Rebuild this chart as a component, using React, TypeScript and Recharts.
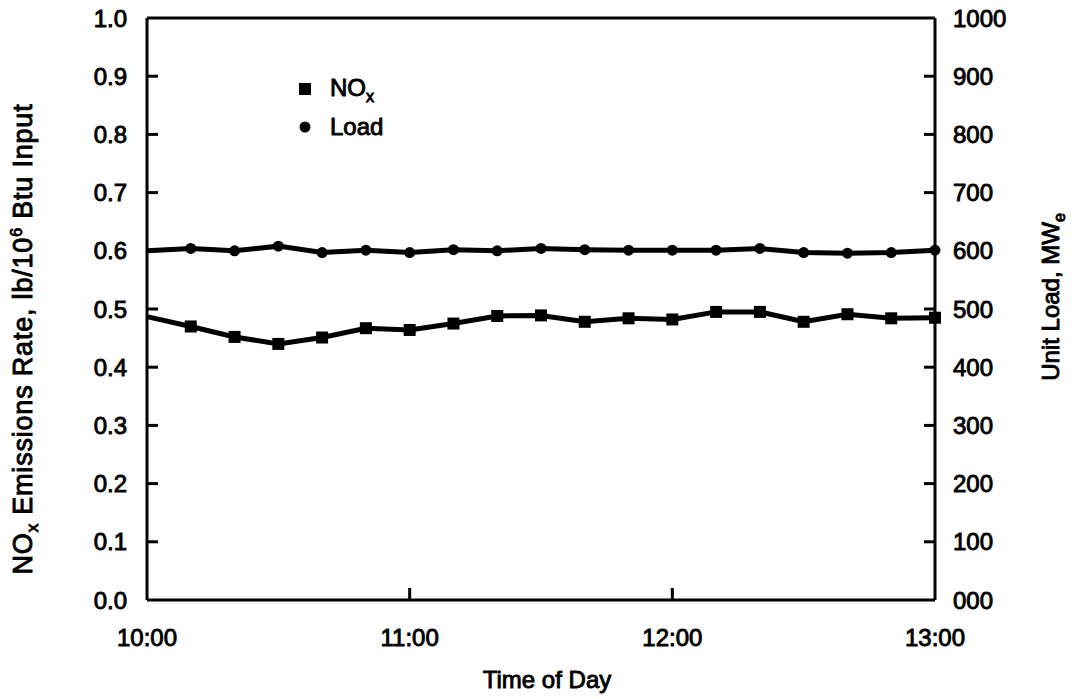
import React from "react";
import { ComposedChart, Line, XAxis, YAxis, ReferenceLine, Legend, Label } from "recharts";

// minutes after 10:00, one reading every 10 min
const minutes = [0, 10, 20, 30, 40, 50, 60, 70, 80, 90, 100, 110, 120, 130, 140, 150, 160, 170, 180];
const noxRate = [0.487, 0.47, 0.452, 0.44, 0.451, 0.467, 0.464, 0.475, 0.488, 0.489, 0.478, 0.484, 0.482, 0.495, 0.495, 0.478, 0.491, 0.484, 0.485];
const unitLoad = [600, 604, 600, 608, 597, 601, 597, 602, 600, 604, 602, 601, 601, 601, 604, 597, 596, 597, 601];

const timeTicks = [0, 60, 120, 180];
const timeLabels = ["10:00", "11:00", "12:00", "13:00"];
const rateTicks = [0, 0.1, 0.2, 0.3, 0.4, 0.5, 0.6, 0.7, 0.8, 0.9, 1.0];
const loadTicks = [0, 100, 200, 300, 400, 500, 600, 700, 800, 900, 1000];
const legendOrder = ["nox", "load"];

const data = minutes.map((t, i) => ({ t, nox: noxRate[i], load: unitLoad[i] }));

const FONT = "'Liberation Sans', Arial, Helvetica, sans-serif";
const INK = "#000";

const textStyle = { fontFamily: FONT, fontSize: 24, fill: INK, stroke: INK, strokeWidth: 0.9 };

function TimeTick(props: any) {
  const { x, y, payload } = props;
  const idx = timeTicks.indexOf(payload.value);
  const inner = payload.value !== 0 && payload.value !== 180;
  return (
    <g>
      {inner && <line x1={x} y1={y} x2={x} y2={y - 12} stroke={INK} strokeWidth={3} />}
      <text x={x} y={y + 46} textAnchor="middle" {...textStyle}>
        {timeLabels[idx]}
      </text>
    </g>
  );
}

function RateTick(props: any) {
  const { x, y, payload } = props;
  const v = Number(payload.value);
  const inner = v > 0 && v < 1;
  return (
    <g>
      {inner && <line x1={x} y1={y} x2={x + 11} y2={y} stroke={INK} strokeWidth={3} />}
      <text x={x - 20} y={y + 8.5} textAnchor="end" {...textStyle}>
        {v.toFixed(1)}
      </text>
    </g>
  );
}

function LoadTick(props: any) {
  const { x, y, payload } = props;
  const v = Number(payload.value);
  const inner = v > 0 && v < 1000;
  return (
    <g>
      {inner && <line x1={x} y1={y} x2={x - 11} y2={y} stroke={INK} strokeWidth={3} />}
      <text x={x + 18} y={y + 8.5} textAnchor="start" {...textStyle}>
        {v === 0 ? "000" : String(v)}
      </text>
    </g>
  );
}

function SquareDot(props: any) {
  const { cx, cy, index } = props;
  if (index === 0 || cx == null || cy == null) return <g key={`sq-${index}`} />;
  return <rect key={`sq-${index}`} x={cx - 6} y={cy - 6} width={12} height={12} fill={INK} />;
}

function RoundDot(props: any) {
  const { cx, cy, index } = props;
  if (index === 0 || cx == null || cy == null) return <g key={`ci-${index}`} />;
  return <circle key={`ci-${index}`} cx={cx} cy={cy} r={5.5} fill={INK} />;
}

function LegendBox(props: any) {
  const items = ([...(props.payload || [])] as Array<{ dataKey?: string }>).sort(
    (a, b) => legendOrder.indexOf(String(a.dataKey)) - legendOrder.indexOf(String(b.dataKey))
  );
  return (
    <div style={{ fontFamily: FONT, fontSize: 24, color: INK, WebkitTextStroke: "0.9px #000" }}>
      {items.map((it) => (
        <div key={String(it.dataKey)} style={{ display: "flex", alignItems: "center", height: 38, lineHeight: "38px" }}>
          <svg width={18} height={18} style={{ display: "block" }}>
            {it.dataKey === "nox" ? (
              <rect x={3} y={3} width={12} height={12} fill={INK} />
            ) : (
              <circle cx={9} cy={9} r={5.5} fill={INK} />
            )}
          </svg>
          <span style={{ marginLeft: 16 }}>
            {it.dataKey === "nox" ? (
              <>
                NO<span style={{ fontSize: 16, position: "relative", top: 6 }}>x</span>
              </>
            ) : (
              "Load"
            )}
          </span>
        </div>
      ))}
    </div>
  );
}

function RateTitle(props: any) {
  const vb = props.viewBox || { x: 0, y: 18, width: 147, height: 582 };
  const cx = vb.x + 32;
  const cy = vb.y + vb.height / 2 + 30;
  return (
    <text
      x={cx}
      y={cy}
      transform={`rotate(-90 ${cx} ${cy})`}
      textAnchor="middle"
      {...textStyle}
      fontSize={27}
      letterSpacing={0.8}
    >
      <tspan>NO</tspan>
      <tspan dy={6} fontSize={17}>x</tspan>
      <tspan dy={-6}> Emissions Rate, lb/10</tspan>
      <tspan dy={-10} fontSize={16}>6</tspan>
      <tspan dy={10}> Btu Input</tspan>
    </text>
  );
}

function LoadTitle(props: any) {
  const vb = props.viewBox || { x: 935, y: 18, width: 142, height: 582 };
  const cx = vb.x + 124;
  const cy = vb.y + vb.height / 2 - 12;
  return (
    <text x={cx} y={cy} transform={`rotate(-90 ${cx} ${cy})`} textAnchor="middle" {...textStyle}>
      <tspan>Unit Load, MW</tspan>
      <tspan dy={6} fontSize={16}>e</tspan>
    </text>
  );
}

function TimeTitle(props: any) {
  const vb = props.viewBox || { x: 147, y: 600, width: 788, height: 99 };
  return (
    <text x={vb.x + vb.width / 2 + 6} y={vb.y + 88} textAnchor="middle" {...textStyle}>
      Time of Day
    </text>
  );
}

export default function App() {
  return (
    <div style={{ position: "absolute", left: 0, top: 0, width: 1077, height: 699, background: "#fff" }}>
      <ComposedChart width={1077} height={699} data={data} margin={{ top: 18, right: 0, bottom: 0, left: 0 }}>
        <XAxis
          dataKey="t"
          type="number"
          domain={[0, 180]}
          ticks={timeTicks}
          height={99}
          tickSize={0}
          tickMargin={0}
          tickLine={false}
          axisLine={{ stroke: INK, strokeWidth: 3 }}
          tick={<TimeTick />}
          interval={0}
        >
          <Label content={<TimeTitle />} />
        </XAxis>
        <YAxis
          yAxisId="rate"
          orientation="left"
          width={147}
          domain={[0, 1]}
          ticks={rateTicks}
          tickSize={0}
          tickMargin={0}
          tickLine={false}
          axisLine={{ stroke: INK, strokeWidth: 3 }}
          tick={<RateTick />}
          interval={0}
        >
          <Label content={<RateTitle />} />
        </YAxis>
        <YAxis
          yAxisId="load"
          orientation="right"
          width={142}
          domain={[0, 1000]}
          ticks={loadTicks}
          tickSize={0}
          tickMargin={0}
          tickLine={false}
          axisLine={{ stroke: INK, strokeWidth: 3 }}
          tick={<LoadTick />}
          interval={0}
        >
          <Label content={<LoadTitle />} />
        </YAxis>
        <ReferenceLine yAxisId="rate" y={1} stroke={INK} strokeWidth={3} />
        <Legend
          layout="vertical"
          align="center"
          verticalAlign="middle"
          content={<LegendBox />}
          wrapperStyle={{ position: "absolute", left: 296, top: 70, width: 160 }}
        />
        <Line
          yAxisId="rate"
          dataKey="nox"
          name="NOx"
          stroke={INK}
          strokeWidth={5}
          dot={SquareDot}
          activeDot={false}
          legendType="square"
          isAnimationActive={false}
        />
        <Line
          yAxisId="load"
          dataKey="load"
          name="Load"
          stroke={INK}
          strokeWidth={5}
          dot={RoundDot}
          activeDot={false}
          legendType="circle"
          isAnimationActive={false}
        />
      </ComposedChart>
    </div>
  );
}
